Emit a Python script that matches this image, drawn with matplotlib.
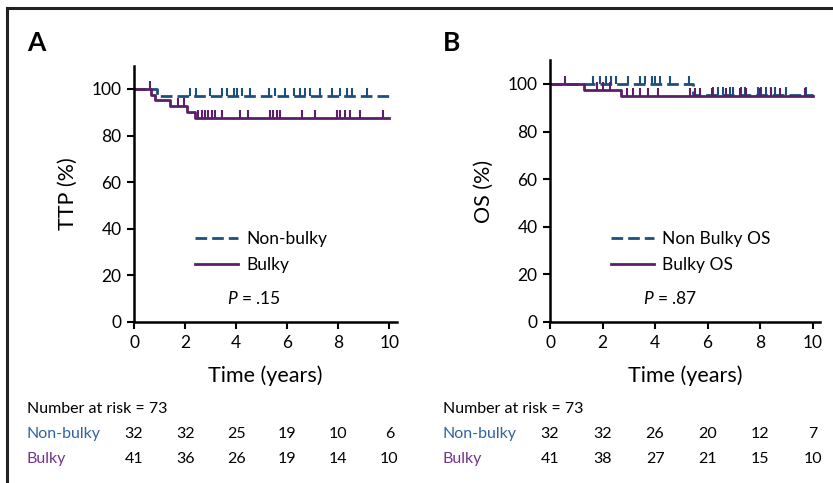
#!/usr/bin/env python
"""Kaplan-Meier curves for TTP (A) and OS (B), bulky vs non-bulky, with number-at-risk table."""

import numpy as np
import matplotlib.pyplot as plt
import matplotlib.transforms as mtransforms
from matplotlib.lines import Line2D

#+++ Data
# Panel A: TTP
ttp_nb_t = [0, 0.9, 10]
ttp_nb_s = [100, 96.9, 96.9]
ttp_nb_cens_t = [2.2, 2.42, 2.98, 3.44, 3.63, 3.9, 4.03, 4.22, 4.55, 5.27, 5.53, 5.92, 6.25,
                 6.51, 6.71, 6.9, 7.29, 7.75, 8.08, 8.34, 8.54, 9.12]
ttp_bk_t = [0, 0.66, 0.82, 1.41, 2.07, 2.39, 10]
ttp_bk_s = [100, 97.6, 95.1, 92.6, 90.0, 87.4, 87.4]
ttp_bk_cens_t = [0.62, 1.74, 1.94, 2.52, 2.65, 2.78, 2.91, 3.05, 3.18, 3.44, 4.16, 4.48, 5.33, 5.46,
                 5.59, 5.73, 6.58, 7.10, 7.95, 8.08, 8.27, 8.47, 8.84, 9.75]

# Panel B: OS
os_nb_t = [0, 5.45, 10]
os_nb_s = [100, 95.2, 95.2]
os_nb_cens_t = [1.65, 1.9, 2.15, 2.34, 2.53, 2.98, 3.42, 3.61, 3.87, 3.99, 4.18, 4.56, 5.3,
                6.21, 6.4, 6.59, 6.84, 6.97, 7.29, 7.41, 7.92, 8.05, 8.24, 8.43, 8.56, 9.0, 9.76]
os_bk_t = [0, 1.29, 2.72, 10]
os_bk_s = [100, 97.6, 94.9, 94.9]
os_bk_cens_t = [0.57, 1.78, 2.03, 2.28, 2.92, 3.17, 3.42, 3.74, 4.12, 5.32, 5.51, 5.7, 6.15,
                6.72, 7.22, 7.48, 7.98, 8.43, 8.75, 9.7]

risk_times = [0, 2, 4, 6, 8, 10]
ttp_risk_nb = [32, 32, 25, 19, 10, 6]
ttp_risk_bk = [41, 36, 26, 19, 14, 10]
os_risk_nb = [32, 32, 26, 20, 12, 7]
os_risk_bk = [41, 38, 27, 21, 15, 10]
#---

#+++ Style
W, H = 833, 483
BLUE = "#1d4f7e"
PURPLE = "#5a1f68"
LBL_BLUE = "#2d64a0"
LBL_PURPLE = "#73348a"
plt.rcParams["font.family"] = ["Lato", "DejaVu Sans"]
plt.rcParams["mathtext.fontset"] = "custom"
plt.rcParams["mathtext.it"] = "Lato:italic"
plt.rcParams["mathtext.rm"] = "Lato"
COND = dict(family=["Liberation Sans Narrow", "Lato", "DejaVu Sans"], stretch="condensed")

def px(x, y):
    return x / W, 1 - y / H

def surv_at(t_steps, s_steps, t):
    idx = np.searchsorted(t_steps, t, side="right") - 1
    return np.asarray(s_steps)[idx]
#---

fig = plt.figure(figsize=(W / 100, H / 100), dpi=100)

# frame (top and left edges visible)
fig.add_artist(Line2D([7 / W, 1], [1 - 7.5 / H] * 2, color="#222222", lw=2.2, transform=fig.transFigure))
fig.add_artist(Line2D([7 / W] * 2, [0, 1 - 7.5 / H], color="#222222", lw=2.2, transform=fig.transFigure))

axA = fig.add_axes([134 / W, 1 - 322 / H, 262.6 / W, 256.3 / H])
axB = fig.add_axes([550 / W, 1 - 322 / H, 270 / W, 261.8 / H])

panels = [
    (axA, "A", "TTP (%)", (ttp_nb_t, ttp_nb_s, ttp_nb_cens_t), (ttp_bk_t, ttp_bk_s, ttp_bk_cens_t),
     ["Non-bulky", "Bulky"], "$P$ = .15", ttp_risk_nb, ttp_risk_bk),
    (axB, "B", "OS (%)", (os_nb_t, os_nb_s, os_nb_cens_t), (os_bk_t, os_bk_s, os_bk_cens_t),
     ["Non Bulky OS", "Bulky OS"], "$P$ = .87", os_risk_nb, os_risk_bk),
]

for ax, letter, ylab, nb, bk, leg_labels, ptxt, r_nb, r_bk in panels:
    h_nb, = ax.step(nb[0], nb[1], where="post", color=BLUE, lw=2.0, dashes=(4.2, 1.8))
    ax.plot(nb[2], surv_at(nb[0], nb[1], nb[2]), ls="none", marker=2, ms=6, mew=1.5, color=BLUE)
    h_bk, = ax.step(bk[0], bk[1], where="post", color=PURPLE, lw=2.0)
    ax.plot(bk[2], surv_at(bk[0], bk[1], bk[2]), ls="none", marker=2, ms=6, mew=1.5, color=PURPLE)

    ax.set_xlim(0, 10.28)
    ax.set_ylim(0, 110)
    ax.set_xticks(risk_times)
    ax.set_yticks(range(0, 101, 20))
    for s in ("top", "right"):
        ax.spines[s].set_visible(False)
    for s in ("left", "bottom"):
        ax.spines[s].set_linewidth(1.8)
    ax.tick_params(direction="out", length=5, width=1.5, labelsize=12.5, pad=4)
    ax.set_xlabel("Time (years)", fontsize=15.5, labelpad=11, **COND)
    ax.set_ylabel(ylab, fontsize=15.5, labelpad=10, **COND)

    pos = ax.get_position()
    x0 = pos.x0 * W
    fig.text(*px(x0 - 107, 43), letter, fontsize=19, fontweight="bold", va="center", ha="left")

    leg = ax.legend([h_nb, h_bk], leg_labels, loc="upper left", frameon=False,
                    bbox_to_anchor=px(x0 + 61, 231), bbox_transform=fig.transFigure,
                    fontsize=12.5, handlelength=2.5, handletextpad=0.45, labelspacing=0.6,
                    borderpad=0, borderaxespad=0)
    fig.text(*px(x0 + 120, 299), ptxt, fontsize=12.5, ha="center", va="center")

    # number at risk table
    fig.text(*px(x0 - 107, 409), "Number at risk = 73", fontsize=11.5, va="center")
    fig.text(*px(x0 - 107, 434), "Non-bulky", fontsize=11.5, va="center", color=LBL_BLUE)
    fig.text(*px(x0 - 107, 459), "Bulky", fontsize=11.5, va="center", color=LBL_PURPLE)
    trans = mtransforms.blended_transform_factory(ax.transData, fig.transFigure)
    for t, a, b in zip(risk_times, r_nb, r_bk):
        fig.text(t, 1 - 434 / H, str(a), fontsize=11.5, ha="center", va="center", transform=trans)
        fig.text(t, 1 - 459 / H, str(b), fontsize=11.5, ha="center", va="center", transform=trans)

fig.savefig("out.png", dpi=100)
